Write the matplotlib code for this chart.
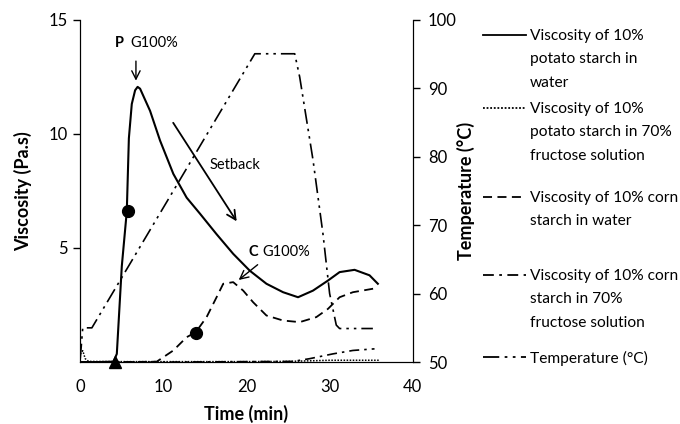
import matplotlib
matplotlib.use("Agg")
import matplotlib.pyplot as plt
from matplotlib.lines import Line2D

plt.rcParams['font.family'] = ['Lato', 'DejaVu Sans']

# time (min) / viscosity (Pa.s)
potato_water_t = [0, 2, 4.0, 4.4, 5.0, 5.6, 5.85, 6.2, 6.6, 6.9, 7.2, 8.4, 9.6, 11.2, 12.8, 14.4,
                  16.4, 18.4, 20.4, 22.4, 24.4, 26.2, 28.0, 29.8, 31.2, 33.0, 34.8, 35.8]
potato_water_v = [0, 0, 0.02, 0.36, 4.2, 6.6, 9.8, 11.3, 11.9, 12.05, 11.97, 11.0, 9.7, 8.24, 7.2, 6.5,
                  5.6, 4.74, 4.0, 3.43, 3.06, 2.84, 3.13, 3.57, 3.94, 4.04, 3.8, 3.43]

potato_fruct_t = [0, 0.3, 0.6, 1.0, 5, 10, 20, 25, 27, 30, 33, 36]
potato_fruct_v = [0.35, 0.5, 0.15, 0.03, 0.02, 0.02, 0.02, 0.03, 0.05, 0.08, 0.08, 0.08]

corn_water_t = [0, 5, 9.2, 11.2, 12.8, 13.9, 15.2, 16.4, 17.2, 18.4, 19.6, 20.8, 22.4, 24.4,
                26.4, 28.4, 29.8, 31.2, 32.8, 34.4, 35.8]
corn_water_v = [0, 0, 0.02, 0.51, 1.09, 1.31, 1.97, 2.84, 3.43, 3.5, 3.13, 2.62, 2.04, 1.82,
                1.75, 1.97, 2.33, 2.84, 3.06, 3.16, 3.25]

corn_fruct_t = [0, 10, 20, 25.6, 27.6, 30.4, 32.8, 35.4]
corn_fruct_v = [0, 0, 0.02, 0.03, 0.15, 0.36, 0.51, 0.58]

temp_t = [0, 0.3, 1.4, 21.0, 25.8, 26.4, 28.0, 29.2, 30.0, 30.8, 31.2, 35.2]
temp_c = [50.5, 55, 55, 95, 95, 91.6, 79.5, 68.7, 60, 55.4, 54.9, 54.9]

# markers: gelatinisation points
dots_t = [5.7, 13.9]
dots_v = [6.6, 1.29]
onset_t = [4.2]
onset_v = [0]

legend_labels = [
    "Viscosity of 10%\npotato starch in\nwater",
    "Viscosity of 10%\npotato starch in 70%\nfructose solution",
    "Viscosity of 10% corn\nstarch in water",
    "Viscosity of 10% corn\nstarch in 70%\nfructose solution",
    "Temperature (°C)",
]

ls_solid = '-'
ls_dot = (0, (1, 1))
ls_dash = (0, (5, 3))
ls_dashdot = (0, (6, 3, 1.5, 3))
ls_dashdotdot = (0, (9, 3, 1.5, 3, 1.5, 3))

fig = plt.figure(figsize=(6.8, 4.24), dpi=100)
ax = fig.add_axes([0.118, 0.146, 0.489, 0.808])
ax2 = ax.twinx()

ax.plot(potato_water_t, potato_water_v, color='black', lw=1.5, ls=ls_solid)
ax.plot(potato_fruct_t, potato_fruct_v, color='black', lw=1.1, ls=ls_dot)
ax.plot(corn_water_t, corn_water_v, color='black', lw=1.3, ls=ls_dash)
ax.plot(corn_fruct_t, corn_fruct_v, color='black', lw=1.2, ls=ls_dashdot)
ax2.plot(temp_t, temp_c, color='black', lw=1.2, ls=ls_dashdotdot)

ax.plot(dots_t, dots_v, 'o', color='black', ms=8.5, zorder=5)
ax.plot(onset_t, onset_v, '^', color='black', ms=9, zorder=5, clip_on=False)

ax.set_xlim(0, 40)
ax.set_ylim(0, 15)
ax2.set_ylim(50, 100)
ax.set_xticks([0, 10, 20, 30, 40])
ax.set_yticks([5, 10, 15])
ax2.set_yticks([50, 60, 70, 80, 90, 100])

for a in (ax, ax2):
    a.spines['top'].set_visible(False)
    a.patch.set_visible(False)
ax.tick_params(axis='x', length=0, pad=12, labelsize=12)
ax.tick_params(axis='y', direction='out', length=5, width=1, pad=4, labelsize=12)
ax2.tick_params(axis='y', direction='out', length=5, width=1, pad=6, labelsize=12)

ax.set_xlabel("Time (min)", fontsize=13, fontweight='bold', labelpad=7)
ax.set_ylabel("Viscosity (Pa.s)", fontsize=13, fontweight='bold', labelpad=12)
ax2.set_ylabel("Temperature (°C)", fontsize=13, fontweight='bold', labelpad=0)

# annotations
ax.text(4.2, 13.96, "P", fontsize=10.5, fontweight='bold', va='center', ha='left')
ax.text(6.0, 13.96, "G100%", fontsize=10.5, va='center', ha='left')
ax.annotate("", xy=(6.7, 12.2), xytext=(6.7, 13.3),
            arrowprops=dict(arrowstyle='->', lw=1, color='black', mutation_scale=15))
ax.text(20.2, 4.82, "C", fontsize=10.5, fontweight='bold', va='center', ha='left')
ax.text(21.9, 4.82, "G100%", fontsize=10.5, va='center', ha='left')
ax.annotate("", xy=(18.8, 3.52), xytext=(21.6, 4.34),
            arrowprops=dict(arrowstyle='->', lw=1, color='black', mutation_scale=15))
ax.annotate("", xy=(19.0, 6.06), xytext=(11.0, 10.58),
            arrowprops=dict(arrowstyle='->', lw=1.3, color='black', mutation_scale=16))
ax.text(15.6, 8.63, "Setback", fontsize=10.5, va='center', ha='left')

# legend drawn at the right of the chart
handle_styles = [ls_solid, ls_dot, ls_dash, ls_dashdot, ls_dashdotdot]
entry_y = [35, 108, 197, 275, 357]
W, H = 680, 424
for lab, ls, yp in zip(legend_labels, handle_styles, entry_y):
    fy = 1 - yp / H
    fig.add_artist(Line2D([483 / W, 526 / W], [fy, fy], color='black', lw=1.3, ls=ls))
    fig.text(530 / W, 1 - (yp - 6) / H, lab, fontsize=11.2, va='top', ha='left', linespacing=1.85)

fig.savefig("out.png", dpi=100)
